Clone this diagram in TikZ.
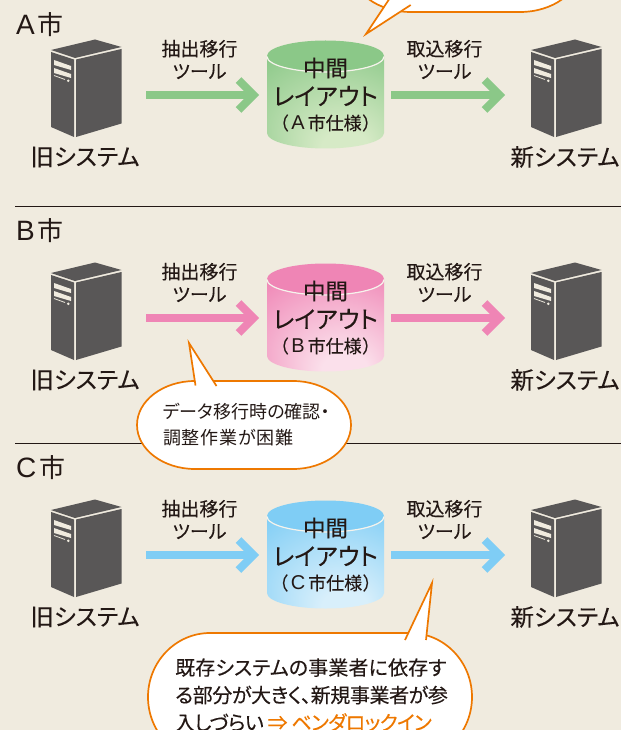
\documentclass[tikz,border=0pt]{standalone}
\usepackage{fontspec}
\setmainfont[RawFeature=+palt]{Noto Sans CJK JP}
\newfontfamily\latinf{Liberation Sans}
\definecolor{paper}{HTML}{F0EBDF}
\definecolor{ink}{HTML}{231815}
\definecolor{srv}{HTML}{595757}
\definecolor{callout}{HTML}{EE7800}
\definecolor{gA}{HTML}{8BC888}
\definecolor{gB}{HTML}{D6EAC6}
\definecolor{pA}{HTML}{EF85B5}
\definecolor{pB}{HTML}{FBE0EB}
\definecolor{bA}{HTML}{7FCDF5}
\definecolor{bB}{HTML}{D8EFFB}
\pgfdeclareradialshading{shgreen}{\pgfpoint{10bp}{-30bp}}{color(0bp)=(gB);color(10bp)=(gB);color(44bp)=(gA);color(60bp)=(gA)}
\pgfdeclareradialshading{shpink}{\pgfpoint{10bp}{-30bp}}{color(0bp)=(pB);color(10bp)=(pB);color(44bp)=(pA);color(60bp)=(pA)}
\pgfdeclareradialshading{shblue}{\pgfpoint{10bp}{-30bp}}{color(0bp)=(bB);color(10bp)=(bB);color(44bp)=(bA);color(60bp)=(bA)}
\tikzset{
  x=1pt,y=-1pt,
  lab/.style={inner sep=0pt,text=ink,align=center},
  city/.style={lab,anchor=west},
  syslab/.style={lab,font=\fontsize{23.5}{26}\selectfont\addfontfeature{FakeBold=0.15}},
  toollab/.style={lab,font=\fontsize{19}{23}\selectfont\addfontfeature{FakeBold=0.15}},
  cyl1/.style={lab,font=\fontsize{22.5}{26}\selectfont\addfontfeature{FakeBold=0.4}},
  cyl2/.style={lab,font=\fontsize{24}{26}\selectfont\addfontfeature{FakeBold=0.15}},
  cyl3/.style={lab,font=\fontsize{18}{22}\selectfont\addfontfeature{FakeBold=0.1}},
  flowbar/.style={line width=8pt},
  flowhead/.style={line width=8pt,miter limit=10},
  rule/.style={draw=ink,line width=0.9pt},
  bubble/.style={draw=callout,line width=1.7pt,fill=white},
  tailline/.style={draw=callout,line width=1.7pt,line join=miter},
  btxt/.style={lab,align=left,anchor=west},
  pics/server/.style={code={
    \fill[srv] (0,10) -- (44,-0.5) -- (70.5,7) -- (24,18) -- cycle;
    \fill[srv] (0,12) -- (23,19.5) -- (23,97) -- (0,87) -- cycle;
    \fill[srv] (25,19.5) -- (70.5,9) -- (70.5,83.5) -- (25,97) -- cycle;
    \fill[paper] (3,20) -- (20,26) -- (20,30) -- (3,25) -- cycle;
    \fill[paper] (3,28) -- (20,34) -- (20,38) -- (3,33) -- cycle;
    \draw[paper,line width=0.8pt] (3,35.5) -- (14,39.5);
    \fill[paper] (17.3,40.8) circle (1.4);
  }},
}
% prefix, y offset, letter, colour, shading
\newcommand{\cityrow}[5]{%
  \begin{scope}[yshift=-#2pt]
    \pic at (51,40) {server};
    \pic at (531,40) {server};
    \node[syslab] (#1-old) at (85,157) {旧システム};
    \node[syslab] (#1-new) at (565,157) {新システム};
    \node[toollab] (#1-t1) at (199.5,59.5) {抽出移行\\[-0.5pt]ツール};
    \node[toollab] (#1-t2) at (444.5,59.5) {取込移行\\[-0.5pt]ツール};
    \path[shading=#5] (267,56) -- (267,133) .. controls (267,141.6) and (293.2,148.5) .. (325.5,148.5) .. controls (357.8,148.5) and (384,141.6) .. (384,133) -- (384,56) -- cycle;
    \fill[#4] (267,56) .. controls (267,47.4) and (293.2,40.5) .. (325.5,40.5) .. controls (357.8,40.5) and (384,47.4) .. (384,56) .. controls (384,64.6) and (357.8,71.5) .. (325.5,71.5) .. controls (293.2,71.5) and (267,64.6) .. (267,56) -- cycle;
    \draw[paper!60!white,line width=1.2pt] (267,56.5) .. controls (267,65.1) and (293.2,72) .. (325.5,72) .. controls (357.8,72) and (384,65.1) .. (384,56.5);
    \node[cyl1] (#1-c1) at (325.5,68) {中間};
    \node[cyl2] (#1-c2) at (325.5,96) {レイアウト};
    \node[cyl3] (#1-c3) at (325.5,123) {（\hspace{3pt}{\latinf\fontsize{20}{22}\selectfont #3}\hspace{3pt}市仕様\hspace{1pt}）};
    \coordinate (#1-in) at (146,95);
    \coordinate (#1-tip) at (253.5,95);
    \coordinate (#1-in2) at (391,95);
    \coordinate (#1-tip2) at (499.5,95);
    \draw[#4,flowbar] (#1-in) -- (#1-tip);
    \draw[#4,flowhead] ([shift={(-15,-15)}]#1-tip) -- (#1-tip) -- ([shift={(-15,15)}]#1-tip);
    \draw[#4,flowbar] (#1-in2) -- (#1-tip2);
    \draw[#4,flowhead] ([shift={(-15,-15)}]#1-tip2) -- (#1-tip2) -- ([shift={(-15,15)}]#1-tip2);
  \end{scope}
}
\newcommand{\citylabel}[3]{\node[city] (#1) at (16,#2) {{\latinf\fontsize{28}{30}\selectfont #3}\hspace{3pt}\fontsize{26}{28}\selectfont 市};}
\begin{document}
\begin{tikzpicture}
\useasboundingbox (0,0) rectangle (621,730);
\clip (0,0) rectangle (621,730);
\fill[paper] (0,0) rectangle (621,730);
\coordinate (ruleAl) at (15,206.5); \coordinate (ruleAr) at (621,206.5);
\coordinate (ruleBl) at (15,443.5); \coordinate (ruleBr) at (621,443.5);
\draw[rule] (ruleAl) -- (ruleAr);
\draw[rule] (ruleBl) -- (ruleBr);
\citylabel{cityA}{25}{A}
\citylabel{cityB}{231}{B}
\citylabel{cityC}{468}{C}
\cityrow{a}{0}{A}{gA}{shgreen}
\cityrow{b}{223}{B}{pA}{shpink}
\cityrow{c}{460}{C}{bA}{shblue}
% callout A (cut by the top edge)
\coordinate (tipA) at (366,34);
\draw[bubble] (351,-32) .. controls (351,-7.7) and (377.9,12) .. (411,12) -- (520,12) .. controls (553.1,12) and (580,-7.7) .. (580,-32) -- (580,-80) -- (351,-80) -- cycle;
\fill[white] (tipA) -- (389.3,-1) -- (389.3,-4) -- (412,-4) -- (410.7,5) -- cycle;
\draw[tailline] (389.3,-1) -- (tipA) -- (410.7,5);
% callout B
\coordinate (tipB) at (189,343);
\draw[bubble] (137,425) .. controls (137,449.3) and (163,469) .. (195,469) -- (293,469) .. controls (325,469) and (351,449.3) .. (351,425) .. controls (351,400.7) and (325,381) .. (293,381) -- (195,381) .. controls (163,381) and (137,400.7) .. (137,425) -- cycle;
\fill[white] (tipB) -- (195,386) -- (216,386) -- cycle;
\draw[tailline] (195.5,385.5) -- (tipB) -- (216.5,386);
\node[btxt,font=\fontsize{18}{26}\selectfont] (noteB) at (163,425) {データ移行時の確認・\\{\addfontfeature{LetterSpace=4}調整作業が困難}};
% callout C (cut by the bottom edge)
\coordinate (tipC) at (432,583);
\draw[bubble] (148,697) .. controls (148,661.7) and (175.8,633) .. (210,633) -- (410,633) .. controls (444.2,633) and (472,661.7) .. (472,697) .. controls (472,732.3) and (444.2,761) .. (410,761) -- (210,761) .. controls (175.8,761) and (148,732.3) .. (148,697) -- cycle;
\fill[white] (tipC) -- (405,640) -- (426,640) -- cycle;
\draw[tailline] (405,640) -- (tipC) -- (426,640);
\node[btxt,font=\fontsize{20}{27.5}\selectfont\addfontfeature{FakeBold=0.2}] (noteC) at (175,695) {{\addfontfeature{LetterSpace=0.7}既存システムの事業者に依存す}\\{\addfontfeature{LetterSpace=-2}る部分が大きく、新規事業者が参}\\{\addfontfeature{LetterSpace=-3.3}入しづらい {\color{callout}⇒ ベンダロックイン}}};
\end{tikzpicture}
\end{document}
